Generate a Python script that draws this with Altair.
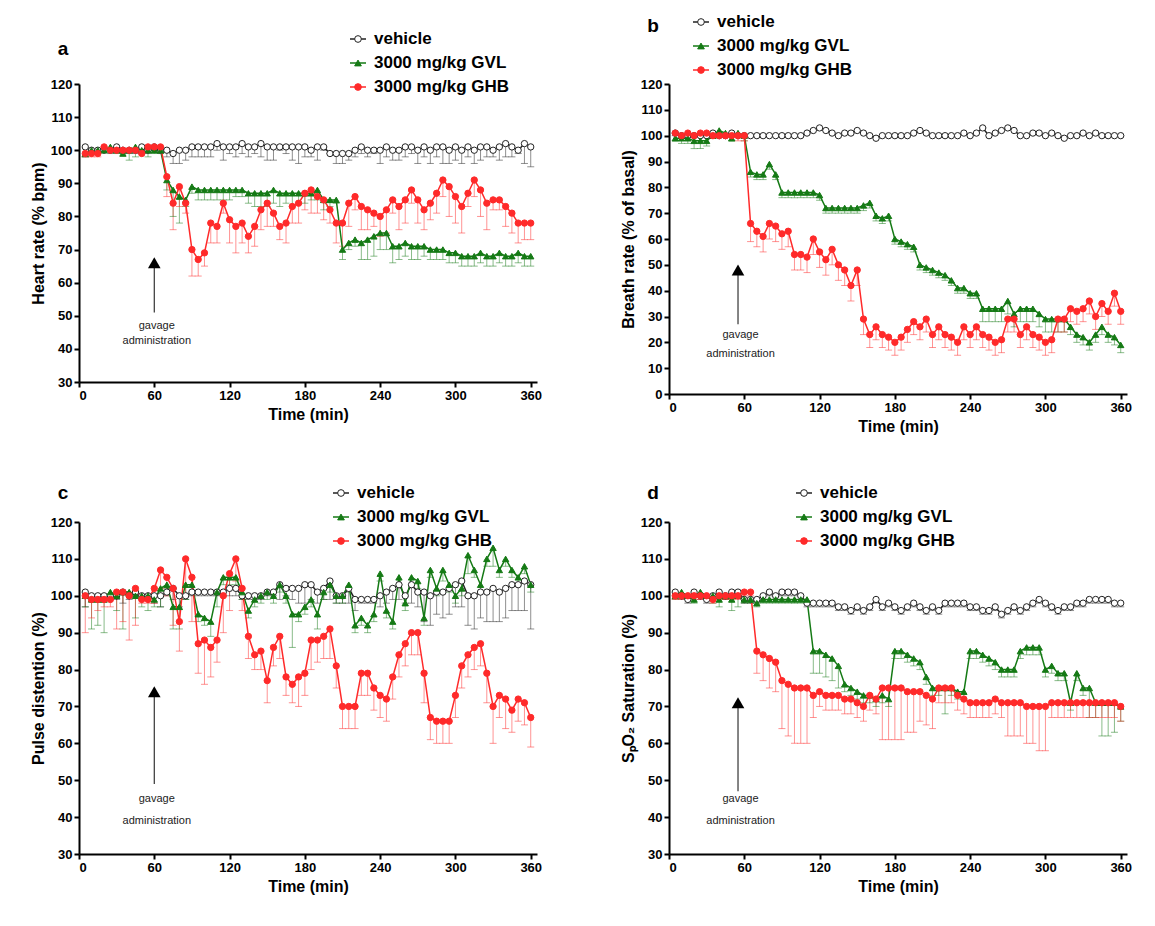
import pandas as pd
import altair as alt

times = list(range(5, 365, 5))
series = ["vehicle", "3000 mg/kg GVL", "3000 mg/kg GHB"]

# ---- panel a: heart rate
a_veh = [101,100,100,100,100,101,100,100,100,101, 100,101,100,100,99,100,100,101,101,101,
         101,102,101,101,101,102,101,101,102,101, 101,101,101,101,101,101,100,101,101,99,
         99,99,99,100,101,100,100,100,101,100, 100,101,101,100,101,100,101,101,100,101,
         100,101,100,101,101,100,101,102,101,100, 102,101]
a_gvl = [99,100,100,100,101,100,99,100,101,100,100,100,100,
         91,88,86,85,89,88,88,88,88,88, 88,88,88,87,87,87,87,88,87,87,
         87,87,87,87,88,85,85,85,70,72, 73,72,73,74,75,75,71,71,72,71,
         71,71,70,70,70,69,69,68,68,68, 69,68,68,69,68,68,69,68,68]
a_ghb = [99,99,99,101,100,100,100,100,100,99,101,101,101,
         92,84,89,84,70,67,69,78,77,84, 79,77,78,74,77,82,84,81,77,78,
         83,84,87,88,86,85,82,78,78,84, 86,83,82,81,80,82,85,83,85,88,
         85,82,84,87,91,89,86,83,87,91, 88,84,85,85,83,81,78,78,78]
a_veh_err = [3,1,1,0,1,1,1,1,1,2, 1,1,1,2,3,4,3,3,3,3, 3,2,4,2,3,3,3,2,4,4,
             4,1,2,4,5,3,2,4,1,0, 3,3,2,2,2,2,1,4,3,3, 3,3,2,4,3,4,3,5,4,4,
             4,3,4,4,3,2,4,4,3,1, 6,6]
a_gvl_err = [1,0,0,0,1,1,0,3,3,0, 2,1,1,3,8,8,2,2,3,3, 3,3,3,3,2,2,3,4,4,4,
             4,4,3,4,3,3,2,3,3,2, 1,3,2,2,5,6,6,5,5,5, 4,4,4,4,3,3,3,3,3,3,
             3,3,3,3,3,3,3,3,3,3, 3,3]
a_ghb_err = [1,1,1,0,0,0,0,0,0,0, 0,0,0,6,8,6,3,8,5,4, 6,5,3,7,8,6,5,6,6,7,
             4,4,6,5,6,5,7,5,6,4, 6,7,7,4,7,6,4,6,7,4, 7,7,4,7,6,5,6,5,9,8,
             8,4,5,8,8,3,3,6,6,6, 5,5]

# ---- panel b: breath rate
b_veh = [101,100,100,100,100,100,101,100,100,101, 100,100,100,100,100,100,100,100,100,100,
         100,101,102,103,102,101,100,101,101,102, 101,100,99,100,100,100,100,100,101,102,
         101,100,100,100,100,100,101,100,101,103, 100,101,102,103,102,100,100,101,101,100,
         101,100,99,100,100,101,100,101,100,100, 100,100]
b_gvl = [99,99,99,98,98,98,100,102,101,99,101,100,
         86,85,85,89,85,78,78,78,78,78, 78,77,72,72,72,72,72,72,73,74,
         69,68,69,60,59,58,57,50,49,48, 47,46,44,41,41,39,39,33,33,33,
         33,36,31,33,33,33,31,29,29,29, 29,26,23,22,20,23,26,23,22,19]
b_ghb = [101,100,101,100,101,101,100,100,100,100,100,100,
         66,63,61,66,65,62,63,54,54,53, 60,55,52,56,50,48,42,48,29,23,
         26,23,22,20,22,25,28,26,29,23, 26,23,22,20,26,23,26,23,22,20,
         21,29,29,23,26,23,22,20,21,29, 29,33,32,33,36,30,35,32,39,32]
b_veh_err = [1,0,0,0,0,0,0,0,0,0, 0,0,0,0,0,0,0,0,0,0, 0,0,0,1,0,0,0,0,0,0,
             0,0,0,0,0,0,0,0,0,0, 0,0,0,0,0,0,0,0,0,0, 0,0,0,0,0,0,0,0,0,0,
             0,0,0,0,0,0,0,0,0,0, 0,0]
b_gvl_err = [1,2,2,3,3,2,1,1,1,1,1,2, 2,2,2,2,2,2,2,2,2,2, 2,2,2,2,2,2,2,2,2,2,
             2,2,2,2,2,2,2,2,2,2, 2,2,2,2,2,2,2,5,5,5, 5,5,5,5,5,5,5,5,5,5,
             5,3,3,3,3,3,3,3,3,3]
b_ghb_err = [0,0,0,0,0,0,0,0,0,0,2,2, 7,6,6,6,6,6,6,6,6,6, 6,6,6,6,6,6,6,6,6,5,
             5,5,5,5,5,5,5,5,5,5, 5,5,5,5,5,5,5,5,5,5, 5,5,5,5,5,5,5,5,5,5,
             5,5,5,5,5,5,5,5,5,5]

# ---- panel c: pulse distention
c_veh = [101,100,100,100,100,100,101,100,101,100, 100,100,100,101,102,100,100,101,101,101,
         101,101,101,102,102,100,100,100,100,101, 101,103,102,102,102,103,103,101,102,104,
         100,100,102,99,99,99,99,100,101,102, 103,100,103,101,101,100,101,101,102,103,
         104,100,100,101,101,102,101,102,103,103, 104,103]
c_gvl = [100,99,99,99,101,100,101,101,100,100, 100,99,102,103,97,97,103,103,95,94,
         93,101,105,105,105,101,96,99,100,101, 100,103,100,95,95,97,99,95,101,103,
         100,100,103,92,94,92,95,106,96,93, 105,98,105,104,94,107,102,107,103,100,
         102,111,107,103,110,113,107,110,107,105, 108,103]
c_ghb = [100,99,99,99,99,101,101,100,102,99,99,
         102,107,105,102,93,110,105,87,88,86, 88,100,106,110,102,89,84,85,77,86,
         89,78,76,78,79,88,88,89,91,81, 70,70,70,79,79,75,73,72,78,84,
         87,90,90,79,67,66,66,66,73,81, 84,86,87,79,70,73,72,69,72,71, 67]
c_veh_err = [4,1,1,1,1,1,3,1,1,1, 1,2,3,1,3,3,1,1,1,1, 1,1,1,2,2,1,1,1,1,1,
             1,4,2,3,4,5,4,3,3,5, 2,2,4,3,1,1,1,3,3,3, 4,2,5,4,8,8,6,7,7,6,
             7,8,9,7,8,9,8,8,7,7, 8,12]
c_gvl_err = [3,8,7,9,2,4,10,1,6,3, 4,2,5,1,6,6,4,2,2,2, 4,4,2,2,2,2,2,2,2,2,
             2,2,2,9,2,2,2,4,2,2, 2,2,2,2,2,2,2,2,2,2, 2,2,2,2,2,2,2,3,2,2,
             2,5,2,2,2,5,2,2,2,2, 2,2]
c_ghb_err = [10,5,3,2,2,10,8,12,10,1,1, 4,5,5,10,8,10,12,8,12,8, 6,10,10,6,6,6,4,5,6,5,
             6,5,5,8,6,8,6,6,8,6, 6,6,6,6,6,6,6,6,6,6, 6,6,6,8,6,6,6,6,6,6,
             6,6,6,8,10,6,8,6,6,6, 8]

# ---- panel d: SpO2 saturation
d_veh = [101,100,99,101,100,99,100,101,100,101, 101,99,99,99,100,101,100,101,101,101,
         100,98,98,98,98,98,97,97,96,97, 96,97,99,97,98,97,96,97,98,97,
         96,97,96,98,98,98,98,97,97,96, 96,97,95,96,97,96,97,98,99,98,
         97,96,97,97,98,98,99,99,99,99, 98,98]
d_gvl = [100,101,100,99,101,100,100,99,100,99,100,99,99,98,99,99,99,99,99,99,99,99,
         85,85,84,83,81,76,75,74,73,73, 72,73,72,85,85,84,83,82,78,75,
         75,75,75,74,74,85,85,84,83,82, 80,80,80,85,86,86,86,80,81,79,
         79,71,79,75,75,71,71,71,71,70]
d_ghb = [100,100,100,100,100,100,99,100,100,100,100,101,101,
         85,84,83,82,77,76,75,75,75,73, 74,73,73,73,72,72,71,70,73,72,
         75,75,75,75,74,74,74,73,72,75, 75,75,73,72,71,71,71,71,72,71,
         71,71,71,70,70,70,70,71,71,71, 71,71,71,71,71,71,71,71,70]
d_veh_err = [1,1,1,1,1,1,1,1,1,1, 1,1,1,1,1,1,1,1,1,1, 1,1,1,1,1,1,1,1,1,1,
             1,1,1,1,1,1,1,1,1,1, 1,1,1,1,1,1,1,1,1,1, 1,1,1,1,1,1,1,1,1,1,
             1,1,1,1,1,1,1,1,1,1, 1,1]
d_gvl_err = [1,1,1,1,1,1,2,2,1,3,3,1,1,1,1,1,1,1,1,1,1,1,
             6,6,6,6,6,2,2,2,2,2, 2,2,2,2,2,2,2,2,2,2, 2,7,2,2,2,2,2,2,2,2,
             2,2,2,2,2,2,2,2,2,2, 2,2,2,2,8,4,9,9,8,4]
d_ghb_err = [1,1,1,1,1,1,1,1,1,1,1,1,1,
             6,7,8,8,13,14,15,15,15,6, 4,4,4,4,4,4,4,4,4,4, 14,14,14,14,11,11,8,8,8,4,
             4,4,4,4,4,4,4,4,4,4, 9,9,9,10,10,12,12,4,4,4, 4,4,4,4,4,4,4,4,4]

BLACK, GREEN, RED = "#222222", "#157a15", "#ff2a2a"
STROKES = [BLACK, GREEN, RED]
FILLS = ["white", GREEN, RED]
SHAPES = ["circle", "triangle-up", "circle"]


def make_df(veh, gvl, ghb, ve, ge, he):
    rows = []
    for name, vals, errs in zip(series, [veh, gvl, ghb], [ve, ge, he]):
        for t, v, e in zip(times, vals, errs):
            rows.append({"t": t, "value": v, "low": v - e, "series": name})
    return pd.DataFrame(rows)


def legend_layers(lx, ly):
    out = []
    one = pd.DataFrame({"s": ["x"]})
    for i, name in enumerate(series):
        yy = ly + i * 24
        out.append(alt.Chart(one).mark_rule(color=STROKES[i], strokeWidth=1.5).encode(
            x=alt.value(lx - 8), x2=alt.value(lx + 8), y=alt.value(yy)))
        out.append(alt.Chart(one).mark_point(shape=SHAPES[i], fill=FILLS[i], color=STROKES[i],
                                             filled=False, size=45, opacity=1, strokeWidth=1).encode(
            x=alt.value(lx), y=alt.value(yy)))
        out.append(alt.Chart(pd.DataFrame({"s": [name]})).mark_text(
            align="left", baseline="middle", fontSize=17, fontWeight="bold",
            font="Liberation Sans", color="black").encode(
            x=alt.value(lx + 16), y=alt.value(yy), text="s:N"))
    return out


def panel(df, letter, ytitle, ymin, ax, ay0, ay1, h):
    color = alt.Color("series:N", scale=alt.Scale(domain=series, range=STROKES), legend=None)
    shape = alt.Shape("series:N", scale=alt.Scale(domain=series, range=SHAPES), legend=None)
    fill = alt.Fill("series:N", scale=alt.Scale(domain=series, range=FILLS), legend=None)
    xaxis = alt.Axis(values=list(range(0, 361, 60)), title="Time (min)")
    yaxis = alt.Axis(values=list(range(ymin, 121, 10)), title=ytitle, labelOverlap=False)
    xs = alt.Scale(domain=[0, 365], nice=False)
    ys = alt.Scale(domain=[ymin, 120], nice=False)
    x = alt.X("t:Q", scale=xs, axis=xaxis)
    y = alt.Y("value:Q", scale=ys, axis=yaxis)
    ylow = alt.Y("low:Q", scale=ys, axis=yaxis)
    base = alt.Chart(df)
    err = base.mark_rule(strokeWidth=1, opacity=0.5).encode(x=x, y=y, y2="low:Q", color=color)
    cap = base.mark_tick(thickness=1, size=7, opacity=0.5, orient="horizontal").encode(
        x=x, y=ylow, color=color)
    line = base.mark_line(strokeWidth=1.5).encode(x=x, y=y, color=color, detail="series:N")
    pts = base.mark_point(size=40, strokeWidth=1, opacity=1).encode(x=x, y=y, color=color, shape=shape, fill=fill)
    arr_df = pd.DataFrame({"t": [ax], "value": [ay0], "top": [ay1]})
    yt = alt.Y("top:Q", scale=ys, axis=yaxis)
    arrow = alt.Chart(arr_df).mark_rule(color="#333", strokeWidth=1.2).encode(x=x, y=y, y2="top:Q")
    head = alt.Chart(arr_df).mark_point(shape="triangle-up", filled=True, color="black", size=160, opacity=1).encode(x=x, y=yt)
    txt_df = pd.DataFrame({"t": [ax + 2, ax + 2], "value": [ay0 - h["gap"], ay0 - h["gap"] - h["lh"]],
                           "s": ["gavage", "administration"]})
    txt = alt.Chart(txt_df).mark_text(fontSize=11, font="Liberation Sans", color="#222").encode(
        x=x, y=y, text="s:N")
    lab = alt.Chart(pd.DataFrame({"s": [letter]})).mark_text(
        fontSize=19, fontWeight="bold", font="Liberation Sans", color="black").encode(
        x=alt.value(-16), y=alt.value(h["ly"]), text="s:N")
    layers = [err, cap, line, pts, arrow, head, txt, lab] + legend_layers(h["lx"], h["gy"])
    return alt.layer(*layers).properties(width=458, height=h["h"])


da = make_df(a_veh, a_gvl, a_ghb, a_veh_err, a_gvl_err, a_ghb_err)
db = make_df(b_veh, b_gvl, b_ghb, b_veh_err, b_gvl_err, b_ghb_err)
dc = make_df(c_veh, c_gvl, c_ghb, c_veh_err, c_gvl_err, c_ghb_err)
dd = make_df(d_veh, d_gvl, d_ghb, d_veh_err, d_gvl_err, d_ghb_err)

pa = panel(da, "a", "Heart rate (% bpm)", 30, 60, 51, 66,
           {"h": 298, "lx": 279, "gy": -45, "gap": 4, "lh": 4.5, "ly": -35})
pb = panel(db, "b", "Breath rate (% of basal)", 0, 55, 27, 48,
           {"h": 310, "lx": 32, "gy": -62, "gap": 4, "lh": 7.6, "ly": -58})
pc = panel(dc, "c", "Pulse distention (%)", 30, 60, 49, 74,
           {"h": 332, "lx": 262, "gy": -29, "gap": 4, "lh": 6, "ly": -29})
pd_ = panel(dd, "d", "SₚO₂ Saturation (%)", 30, 55, 47, 71,
            {"h": 332, "lx": 135, "gy": -29, "gap": 2, "lh": 6, "ly": -29})

chart = alt.vconcat(
    alt.hconcat(pa, pb, spacing=78),
    alt.hconcat(pc, pd_, spacing=78),
    spacing=50,
).properties(
    padding={"left": 22, "top": 5, "right": 5, "bottom": 5}
).configure_view(
    stroke=None
).configure_axis(
    grid=False, domainColor="black", domainWidth=2, tickColor="black", tickWidth=2, tickSize=5,
    labelFont="Liberation Sans", labelFontSize=13, labelFontWeight="bold", labelColor="black",
    titleFont="Liberation Sans", titleFontSize=16, titleFontWeight="bold", titleColor="black"
)

chart.save("out.html", embed_options={"renderer": "svg", "actions": False})
